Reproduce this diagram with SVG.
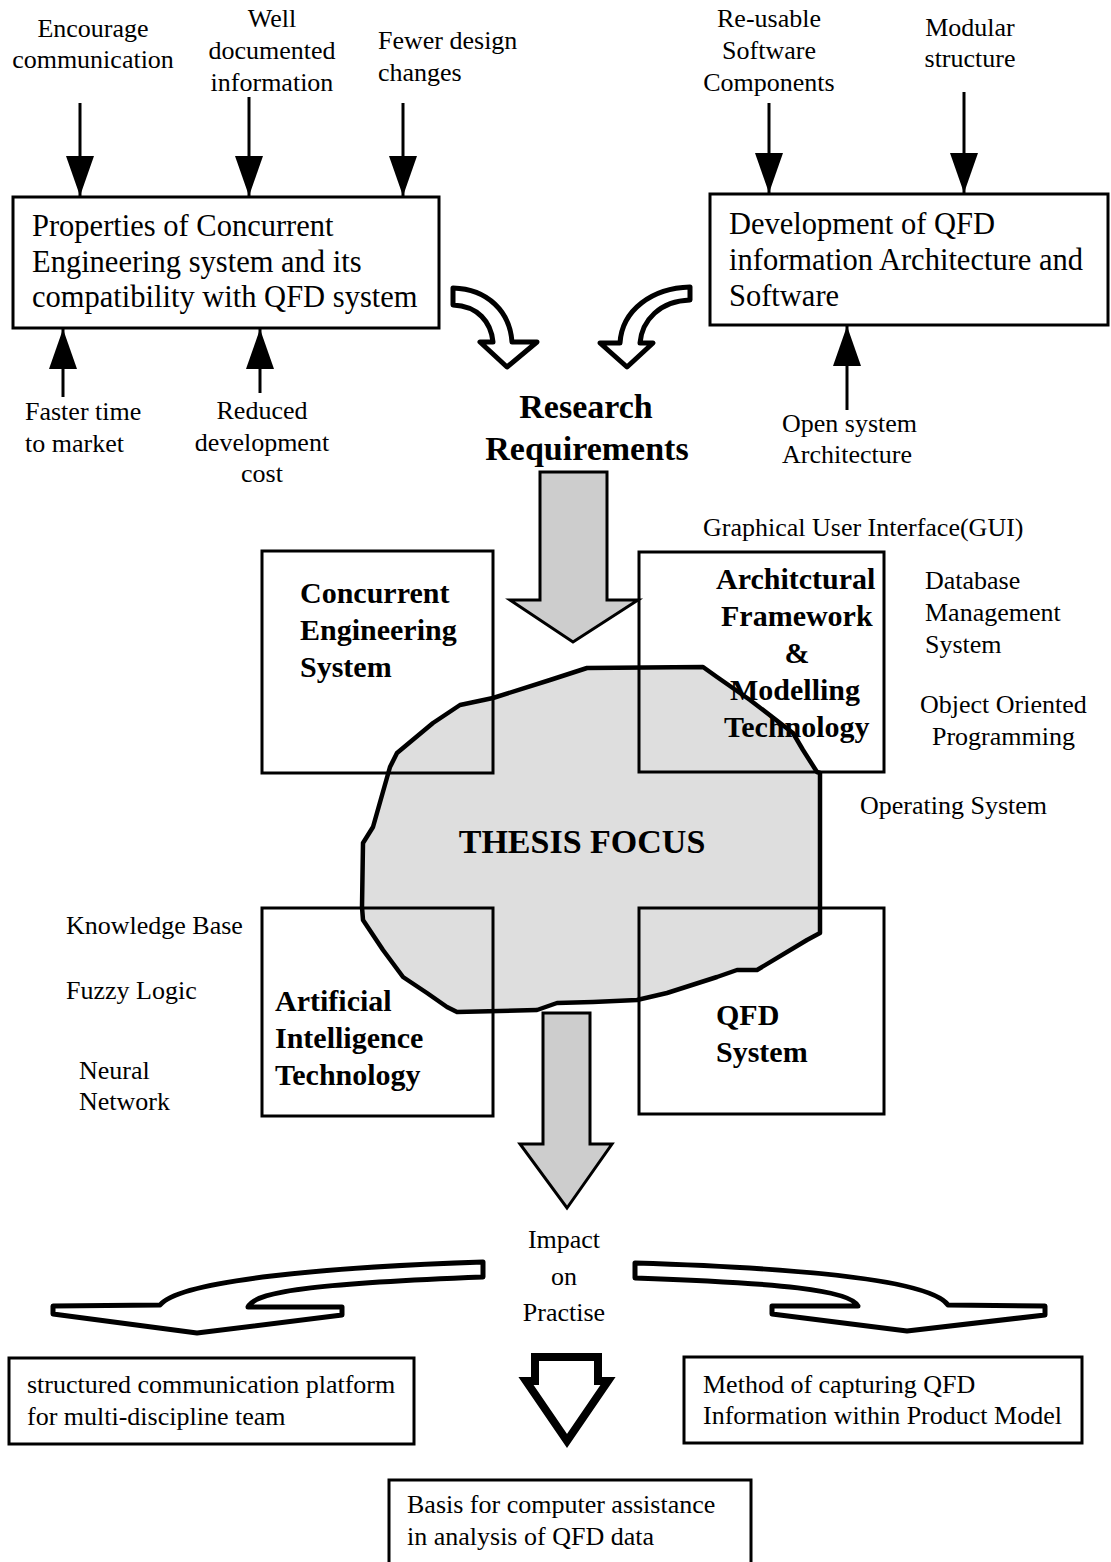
<svg xmlns="http://www.w3.org/2000/svg" width="1111" height="1562" viewBox="0 0 1111 1562">
  <style>
    text { font-family: "Liberation Serif", "Times New Roman", serif; fill: #000; }
    .lbl { font-size: 26px; }
    .box-t { font-size: 30.5px; }
    .bold { font-size: 30px; font-weight: bold; }
    .big { font-size: 34px; font-weight: bold; }
    .box { fill: #fff; stroke: #000; stroke-width: 3; }
    .frame { fill: none; stroke: #000; stroke-width: 3; }
    .conn { stroke: #000; stroke-width: 3; fill: none; }
    .hollow { fill: #fff; stroke: #000; stroke-width: 5; stroke-linejoin: round; }
    .shaded { fill: #cdcdcd; stroke: #000; stroke-width: 3; stroke-linejoin: miter; }
  </style>
  <defs>
    <marker id="head" markerUnits="userSpaceOnUse" markerWidth="42" markerHeight="28" refX="40" refY="14" orient="auto">
      <path d="M0,0 L40,14 L0,28 Z" fill="#000"/>
    </marker>
    <path id="focus-outline" d="M587,668 L703,667 L717,677 L750,700 L793,733 L803,750 L817,772 L820,773 L820,933 L807,940 L757,970 L737,970 L717,977 L667,993 L637,1000 L593,1002 L557,1003 L537,1010 L457,1012 L447,1007 L427,993 L403,977 L383,950 L363,920 L362,907 L363,843 L373,827 L390,767 L397,753 L433,723 L460,705 L493,698 L550,680 Z"/>
  </defs>

  <rect width="1111" height="1562" fill="#fff"/>

  <!-- input labels, top row -->
  <g id="labels-top">
    <text class="lbl" x="93" y="37" text-anchor="middle">Encourage</text>
    <text class="lbl" x="93" y="68" text-anchor="middle">communication</text>
    <text class="lbl" x="272" y="27" text-anchor="middle">Well</text>
    <text class="lbl" x="272" y="59" text-anchor="middle">documented</text>
    <text class="lbl" x="272" y="91" text-anchor="middle">information</text>
    <text class="lbl" x="378" y="49">Fewer design</text>
    <text class="lbl" x="378" y="81">changes</text>
    <text class="lbl" x="769" y="27" text-anchor="middle">Re-usable</text>
    <text class="lbl" x="769" y="59" text-anchor="middle">Software</text>
    <text class="lbl" x="769" y="91" text-anchor="middle">Components</text>
    <text class="lbl" x="970" y="36" text-anchor="middle">Modular</text>
    <text class="lbl" x="970" y="67" text-anchor="middle">structure</text>
  </g>

  <!-- requirement boxes -->
  <g id="node-ce-properties">
    <rect class="box" x="13" y="197" width="426" height="131"/>
    <text class="box-t" x="32" y="236">Properties of Concurrent</text>
    <text class="box-t" x="32" y="272">Engineering system and its</text>
    <text class="box-t" x="32" y="307">compatibility with QFD system</text>
  </g>
  <g id="node-qfd-architecture">
    <rect class="box" x="710" y="194" width="398" height="131"/>
    <text class="box-t" x="729" y="234">Development of QFD</text>
    <text class="box-t" x="729" y="270">information Architecture and</text>
    <text class="box-t" x="729" y="306">Software</text>
  </g>

  <g id="labels-under">
    <text class="lbl" x="25" y="420">Faster time</text>
    <text class="lbl" x="25" y="452">to market</text>
    <text class="lbl" x="262" y="419" text-anchor="middle">Reduced</text>
    <text class="lbl" x="262" y="451" text-anchor="middle">development</text>
    <text class="lbl" x="262" y="482" text-anchor="middle">cost</text>
    <text class="lbl" x="782" y="432">Open system</text>
    <text class="lbl" x="782" y="463">Architecture</text>
  </g>

  <g id="node-research">
    <text class="big" x="586" y="418" text-anchor="middle">Research</text>
    <text class="big" x="587" y="460" text-anchor="middle">Requirements</text>
  </g>

  <!-- thesis focus area fill (under the box outlines) -->
  <g id="node-thesis-focus">
    <use href="#focus-outline" fill="#dedede" stroke="none"/>
  </g>

  <!-- technology boxes -->
  <g id="node-ce-system">
    <rect class="frame" x="262" y="551" width="231" height="222"/>
    <text class="bold" x="300" y="603">Concurrent</text>
    <text class="bold" x="300" y="640">Engineering</text>
    <text class="bold" x="300" y="677">System</text>
  </g>
  <g id="node-framework">
    <rect class="frame" x="639" y="552" width="245" height="220"/>
    <text class="bold" x="716" y="589">Architctural</text>
    <text class="bold" x="721" y="626">Framework</text>
    <text class="bold" x="797" y="663" text-anchor="middle">&amp;</text>
    <text class="bold" x="730" y="700">Modelling</text>
    <text class="bold" x="724" y="737">Technology</text>
  </g>
  <g id="node-ai">
    <rect class="frame" x="262" y="908" width="231" height="208"/>
    <text class="bold" x="275" y="1011">Artificial</text>
    <text class="bold" x="275" y="1048">Intelligence</text>
    <text class="bold" x="275" y="1085">Technology</text>
  </g>
  <g id="node-qfd-system">
    <rect class="frame" x="639" y="908" width="245" height="206"/>
    <text class="bold" x="716" y="1025">QFD</text>
    <text class="bold" x="716" y="1062">System</text>
  </g>

  <!-- outline of the focus area, over the box frames -->
  <use href="#focus-outline" fill="none" stroke="#000" stroke-width="4.5" stroke-linejoin="round"/>
  <text class="big" x="582" y="853" text-anchor="middle">THESIS FOCUS</text>

  <g id="labels-side">
    <text class="lbl" x="703" y="536">Graphical User Interface(GUI)</text>
    <text class="lbl" x="925" y="589">Database</text>
    <text class="lbl" x="925" y="621">Management</text>
    <text class="lbl" x="925" y="653">System</text>
    <text class="lbl" x="920" y="713">Object Oriented</text>
    <text class="lbl" x="932" y="745">Programming</text>
    <text class="lbl" x="860" y="814">Operating System</text>
    <text class="lbl" x="66" y="934">Knowledge Base</text>
    <text class="lbl" x="66" y="999">Fuzzy Logic</text>
    <text class="lbl" x="79" y="1079">Neural</text>
    <text class="lbl" x="79" y="1110">Network</text>
  </g>

  <g id="node-impact">
    <text class="lbl" x="564" y="1248" text-anchor="middle">Impact</text>
    <text class="lbl" x="564" y="1285" text-anchor="middle">on</text>
    <text class="lbl" x="564" y="1321" text-anchor="middle">Practise</text>
  </g>

  <!-- outcome boxes -->
  <g id="node-communication-platform">
    <rect class="box" x="9" y="1358" width="405" height="86"/>
    <text class="lbl" x="27" y="1393">structured communication platform</text>
    <text class="lbl" x="27" y="1425">for multi-discipline team</text>
  </g>
  <g id="node-capture-method">
    <rect class="box" x="684" y="1357" width="398" height="86"/>
    <text class="lbl" x="703" y="1393">Method of capturing QFD</text>
    <text class="lbl" x="703" y="1424">Information within Product Model</text>
  </g>
  <g id="node-computer-assistance">
    <rect class="box" x="389" y="1480" width="362" height="90"/>
    <text class="lbl" x="407" y="1513">Basis for computer assistance</text>
    <text class="lbl" x="407" y="1545">in analysis of QFD data</text>
  </g>

  <!-- connectors -->
  <g id="connectors">
    <line class="conn" x1="80" y1="103" x2="80" y2="196" marker-end="url(#head)"/>
    <line class="conn" x1="249" y1="97" x2="249" y2="196" marker-end="url(#head)"/>
    <line class="conn" x1="403" y1="103" x2="403" y2="196" marker-end="url(#head)"/>
    <line class="conn" x1="769" y1="103" x2="769" y2="193" marker-end="url(#head)"/>
    <line class="conn" x1="964" y1="92" x2="964" y2="193" marker-end="url(#head)"/>
    <line class="conn" x1="63" y1="397" x2="63" y2="329" marker-end="url(#head)"/>
    <line class="conn" x1="260" y1="393" x2="260" y2="329" marker-end="url(#head)"/>
    <line class="conn" x1="847" y1="410" x2="847" y2="326" marker-end="url(#head)"/>

    <!-- curved hollow arrows into Research Requirements -->
    <path class="hollow" d="M453,288 C488,289 510,312 512,342 L537,342 L507,367 L480,342 L493,342 C491,322 478,306 453,305 Z"/>
    <path class="hollow" d="M690,287 C652,288 622,310 620,343 L600,343 L627,367 L653,343 L640,343 C642,320 660,301 690,300 Z"/>

    <!-- shaded block arrows through the focus area -->
    <path class="shaded" d="M540,472 L607,472 L607,600 L638,600 L573,642 L510,600 L540,600 Z"/>
    <path class="shaded" d="M543,1013 L590,1013 L590,1144 L612,1144 L567,1208 L520,1144 L543,1144 Z"/>

    <!-- impact arrows -->
    <path class="hollow" d="M483,1262 C330,1267 180,1280 160,1305 L53,1306 L53,1314 L197,1333 L342,1315 L342,1307 L248,1307 C255,1290 330,1283 483,1277 Z"/>
    <path class="hollow" d="M635,1263 C800,1268 930,1280 948,1305 L1045,1306 L1045,1315 L907,1331 L772,1314 L772,1306 L858,1306 C850,1290 780,1283 635,1278 Z"/>
    <path d="M535,1357 L598,1357 L598,1381 L608,1381 L567,1441 L526,1381 L535,1381 Z" fill="#fff" stroke="#000" stroke-width="8" stroke-linejoin="miter"/>
  </g>
</svg>
